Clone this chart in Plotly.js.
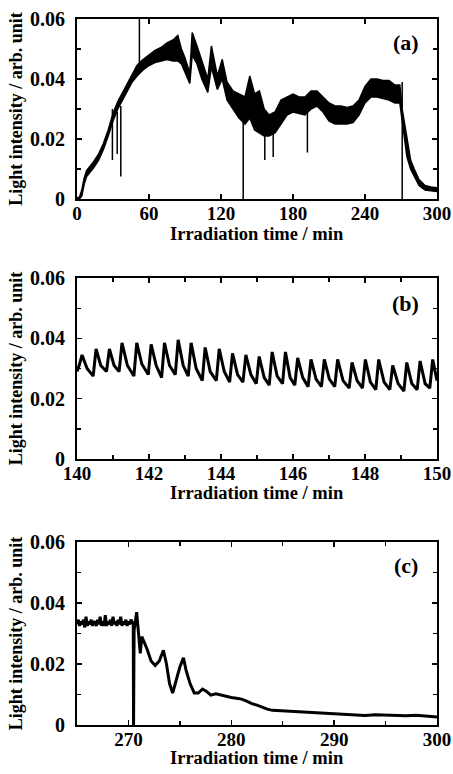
<!DOCTYPE html>
<html>
<head>
<meta charset="utf-8">
<script src="https://cdn.plot.ly/plotly-3.0.1.min.js"></script>
<style>html,body{margin:0;padding:0;background:#fff;}#chart{width:453px;height:774px;}</style>
</head>
<body>
<div id="chart"></div>
<script>
// ---------- Panel (a): 0-300 min, noisy band (upper / lower envelope) ----------
var aTime  = [0, 2, 4, 6, 8, 10, 14, 18, 22, 26, 30, 34, 38, 42, 46, 50, 55, 60, 65, 70, 75, 80, 84, 87, 90, 94, 96, 100, 104, 109, 112, 117, 121, 125, 130, 135, 140, 144, 148, 152, 156, 160, 165, 170, 175, 180, 185, 190, 195, 200, 205, 210, 215, 220, 225, 230, 235, 240, 245, 250, 255, 260, 265, 269, 271, 273, 275, 278, 281, 285, 290, 295, 300];
var aUpper = [0.0005, 0.0005, 0.003, 0.007, 0.0095, 0.0105, 0.0125, 0.015, 0.0185, 0.023, 0.0285, 0.0325, 0.0355, 0.039, 0.042, 0.0445, 0.0465, 0.048, 0.0495, 0.0505, 0.052, 0.053, 0.0545, 0.050, 0.047, 0.042, 0.0555, 0.051, 0.046, 0.040, 0.051, 0.041, 0.0465, 0.039, 0.036, 0.035, 0.034, 0.041, 0.035, 0.036, 0.030, 0.028, 0.029, 0.033, 0.034, 0.035, 0.034, 0.034, 0.036, 0.036, 0.034, 0.032, 0.031, 0.031, 0.0305, 0.031, 0.033, 0.0375, 0.040, 0.040, 0.0395, 0.0395, 0.038, 0.038, 0.030, 0.025, 0.019, 0.013, 0.010, 0.0065, 0.0045, 0.004, 0.0038];
var aLower = [0, 0, 0.001, 0.005, 0.0075, 0.0085, 0.0105, 0.013, 0.0165, 0.021, 0.026, 0.030, 0.033, 0.036, 0.039, 0.041, 0.043, 0.0445, 0.0455, 0.046, 0.0465, 0.046, 0.046, 0.045, 0.042, 0.0385, 0.048, 0.045, 0.040, 0.0355, 0.044, 0.0365, 0.040, 0.033, 0.030, 0.027, 0.025, 0.027, 0.023, 0.022, 0.021, 0.021, 0.022, 0.025, 0.028, 0.029, 0.0285, 0.028, 0.030, 0.031, 0.029, 0.026, 0.025, 0.025, 0.025, 0.0255, 0.028, 0.032, 0.034, 0.034, 0.0335, 0.033, 0.032, 0.032, 0.026, 0.020, 0.014, 0.010, 0.0075, 0.0045, 0.003, 0.0028, 0.0025];
// sharp spikes in panel (a)
var spikeTime = [29.5, 33.5, 36.5, 52, 138.5, 156.5, 163.5, 192, 271];
var spikeLow  = [0.013, 0.015, 0.0075, 0.044, 0, 0.013, 0.014, 0.0155, 0];
var spikeHigh = [0.030, 0.029, 0.031, 0.060, 0.027, 0.024, 0.023, 0.029, 0.039];

// ---------- Panel (b): 140-150 min ----------
var bTime = [140.00, 140.06, 140.14, 140.28, 140.45, 140.53, 140.66, 140.82, 140.90, 141.03,
             141.17, 141.25, 141.40, 141.58, 141.66, 141.80, 141.98, 142.06, 142.20, 142.35,
             142.43, 142.57, 142.73, 142.81, 142.95, 143.09, 143.17, 143.31, 143.48, 143.56,
             143.70, 143.87, 143.95, 144.09, 144.24, 144.32, 144.46, 144.61, 144.69, 144.83,
             144.98, 145.06, 145.20, 145.34, 145.42, 145.56, 145.71, 145.79, 145.92, 146.05,
             146.13, 146.27, 146.42, 146.50, 146.64, 146.79, 146.87, 147.01, 147.16, 147.24,
             147.39, 147.56, 147.64, 147.78, 147.93, 148.01, 148.15, 148.30, 148.38, 148.53,
             148.69, 148.77, 148.92, 149.08, 149.16, 149.30, 149.45, 149.53, 149.67, 149.80,
             149.88, 150.00];
var bValue = [0.029, 0.031, 0.0345, 0.030, 0.0275, 0.0365, 0.031, 0.029, 0.0365, 0.031,
              0.029, 0.0385, 0.031, 0.0275, 0.0385, 0.0315, 0.028, 0.038, 0.031, 0.027,
              0.0385, 0.031, 0.028, 0.0395, 0.031, 0.0275, 0.0385, 0.030, 0.026, 0.037,
              0.029, 0.026, 0.0365, 0.029, 0.0255, 0.035, 0.028, 0.0255, 0.0345, 0.028,
              0.025, 0.034, 0.027, 0.0245, 0.0355, 0.0275, 0.025, 0.0355, 0.027, 0.0245,
              0.0335, 0.027, 0.024, 0.033, 0.0265, 0.024, 0.033, 0.0265, 0.024, 0.033,
              0.026, 0.0235, 0.032, 0.026, 0.0235, 0.033, 0.0255, 0.023, 0.033, 0.0255,
              0.023, 0.031, 0.025, 0.0225, 0.032, 0.025, 0.023, 0.0325, 0.025, 0.0235,
              0.033, 0.026];

// ---------- Panel (c): 265-300 min ----------
var cTime = [265.0, 265.125, 265.25, 265.375, 265.5, 265.625, 265.75, 265.875, 266.0, 266.125,
             266.25, 266.375, 266.5, 266.625, 266.75, 266.875, 267.0, 267.125, 267.25, 267.375,
             267.5, 267.625, 267.75, 267.875, 268.0, 268.125, 268.25, 268.375, 268.5, 268.625,
             268.75, 268.875, 269.0, 269.125, 269.25, 269.375, 269.5, 269.625, 269.75, 269.875,
             270.0, 270.125, 270.25, 270.4, 270.47, 270.5, 270.55, 270.8, 271.0, 271.15,
             271.3, 271.5, 271.8, 272.2, 272.6, 273.0, 273.4, 273.7, 274.0, 274.3,
             274.6, 275.0, 275.35, 275.6, 276.0, 276.4, 276.8, 277.2, 277.6, 278.0,
             278.5, 279.0, 279.5, 280.0, 280.5, 281.0, 281.5, 282.0, 282.5, 283.0,
             283.5, 284.0, 285.0, 286.0, 287.0, 288.0, 289.0, 290.0, 291.0, 292.0,
             293.0, 294.0, 295.0, 296.0, 297.0, 298.0, 299.0, 300.0];
var cValue = [0.033, 0.0345, 0.0325, 0.034, 0.033, 0.0345, 0.032, 0.0355, 0.0325, 0.034,
              0.033, 0.0345, 0.0325, 0.034, 0.0335, 0.0325, 0.0345, 0.033, 0.0355, 0.0325,
              0.034, 0.0325, 0.036, 0.0325, 0.034, 0.033, 0.0345, 0.0325, 0.0355, 0.033,
              0.034, 0.0325, 0.0345, 0.033, 0.0355, 0.0325, 0.034, 0.033, 0.0345, 0.0325,
              0.034, 0.033, 0.0345, 0.033, 0.033, 0.0, 0.031, 0.037, 0.029, 0.0235,
              0.029, 0.0275, 0.025, 0.021, 0.0195, 0.021, 0.0245, 0.020, 0.0135, 0.0105,
              0.0145, 0.019, 0.022, 0.018, 0.0135, 0.0105, 0.0105, 0.0118, 0.011, 0.0098,
              0.0102, 0.0098, 0.0092, 0.009, 0.0088, 0.0085, 0.0078, 0.007, 0.0065, 0.0058,
              0.0052, 0.0048, 0.0046, 0.0046, 0.0043, 0.004, 0.004, 0.0037, 0.0035, 0.0033,
              0.0031, 0.0034, 0.0033, 0.0031, 0.003, 0.0032, 0.003, 0.0026];

var panelLabels = ["(a)", "(b)", "(c)"];
var xTitle = "Irradiation time / min";
var yTitle = "Light intensity / arb. unit";

// build spike segments (x, x, null) from the arrays
var sx = [], sy = [];
for (var i = 0; i < spikeTime.length; i++) {
  sx.push(spikeTime[i], spikeTime[i], null);
  sy.push(spikeLow[i], spikeHigh[i], null);
}

var ink = "#000";
var traces = [
  {x: aTime, y: aLower, mode: "lines", line: {color: ink, width: 1.5}, xaxis: "x", yaxis: "y", hoverinfo: "skip"},
  {x: aTime, y: aUpper, mode: "lines", line: {color: ink, width: 1.5}, fill: "tonexty", fillcolor: ink, xaxis: "x", yaxis: "y", hoverinfo: "skip"},
  {x: sx, y: sy, mode: "lines", line: {color: ink, width: 1.5}, xaxis: "x", yaxis: "y", connectgaps: false, hoverinfo: "skip"},
  {x: bTime, y: bValue, mode: "lines", line: {color: ink, width: 3}, xaxis: "x2", yaxis: "y2", hoverinfo: "skip"},
  {x: cTime, y: cValue, mode: "lines", line: {color: ink, width: 3}, xaxis: "x3", yaxis: "y3", hoverinfo: "skip"}
];

var fam = "Liberation Serif, Times New Roman, serif";
function xax(range, dtick, tick0, minorDtick, anchor) {
  var ax = {
    range: range, dtick: dtick, tick0: tick0, anchor: anchor,
    showline: true, linecolor: ink, linewidth: 2, mirror: "ticks",
    ticks: "inside", ticklen: 5, tickwidth: 1.5, tickcolor: ink,
    showgrid: false, zeroline: false,
    ticklabelstandoff: -4,
    tickfont: {family: fam, size: 19, color: ink, weight: 700},
    automargin: false
  };
  if (minorDtick) ax.minor = {dtick: minorDtick, ticks: "inside", ticklen: 4, tickwidth: 1.5, tickcolor: ink, showgrid: false};
  return ax;
}
function yax(domain, anchor) {
  return {
    domain: domain, range: [0, 0.06], dtick: 0.02, tick0: 0, anchor: anchor,
    showline: true, linecolor: ink, linewidth: 2, mirror: "ticks",
    ticks: "inside", ticklen: 5, tickwidth: 1.5, tickcolor: ink,
    minor: {dtick: 0.01, ticks: "inside", ticklen: 4, tickwidth: 1.5, tickcolor: ink, showgrid: false},
    showgrid: false, zeroline: false,
    ticklabelstandoff: 6,
    tickfont: {family: fam, size: 20, color: ink, weight: 700},
    title: {text: yTitle, font: {family: fam, size: 18, color: ink, weight: 700}, standoff: 3},
    automargin: false
  };
}

function label(txt, xr, yr, yy) {
  return {xref: xr + " domain", yref: yr + " domain", x: 0.913, y: yy, xanchor: "center", yanchor: "middle",
          text: txt, showarrow: false, font: {family: fam, size: 22, color: ink, weight: 700}};
}
function xTitleAnn(xr, yr, yy) {
  return {xref: xr + " domain", yref: yr + " domain", x: 0.5, y: yy, xanchor: "center", yanchor: "middle",
          text: xTitle, showarrow: false, font: {family: fam, size: 18.5, color: ink, weight: 700}};
}

var layout = {
  width: 453, height: 774,
  margin: {l: 77, r: 16, t: 19, b: 49},
  paper_bgcolor: "#fff", plot_bgcolor: "#fff",
  showlegend: false,
  xaxis: xax([0, 300], 60, 0, null, "y"),
  yaxis: yax([0.745, 1.0], "x"),
  xaxis2: xax([140, 150], 2, 140, 1, "y2"),
  yaxis2: yax([0.3768, 0.633], "x2"),
  xaxis3: xax([265, 300], 10, 270, 5, "y3"),
  yaxis3: yax([0, 0.2592], "x3"),
  annotations: [
    label(panelLabels[0], "x", "y", 0.867),
    label(panelLabels[1], "x2", "y2", 0.862),
    label(panelLabels[2], "x3", "y3", 0.874),
    xTitleAnn("x", "y", -0.192),
    xTitleAnn("x2", "y2", -0.186),
    xTitleAnn("x3", "y3", -0.18)
  ]
};

Plotly.newPlot("chart", traces, layout, {staticPlot: true, displayModeBar: false});
</script>
</body>
</html>
